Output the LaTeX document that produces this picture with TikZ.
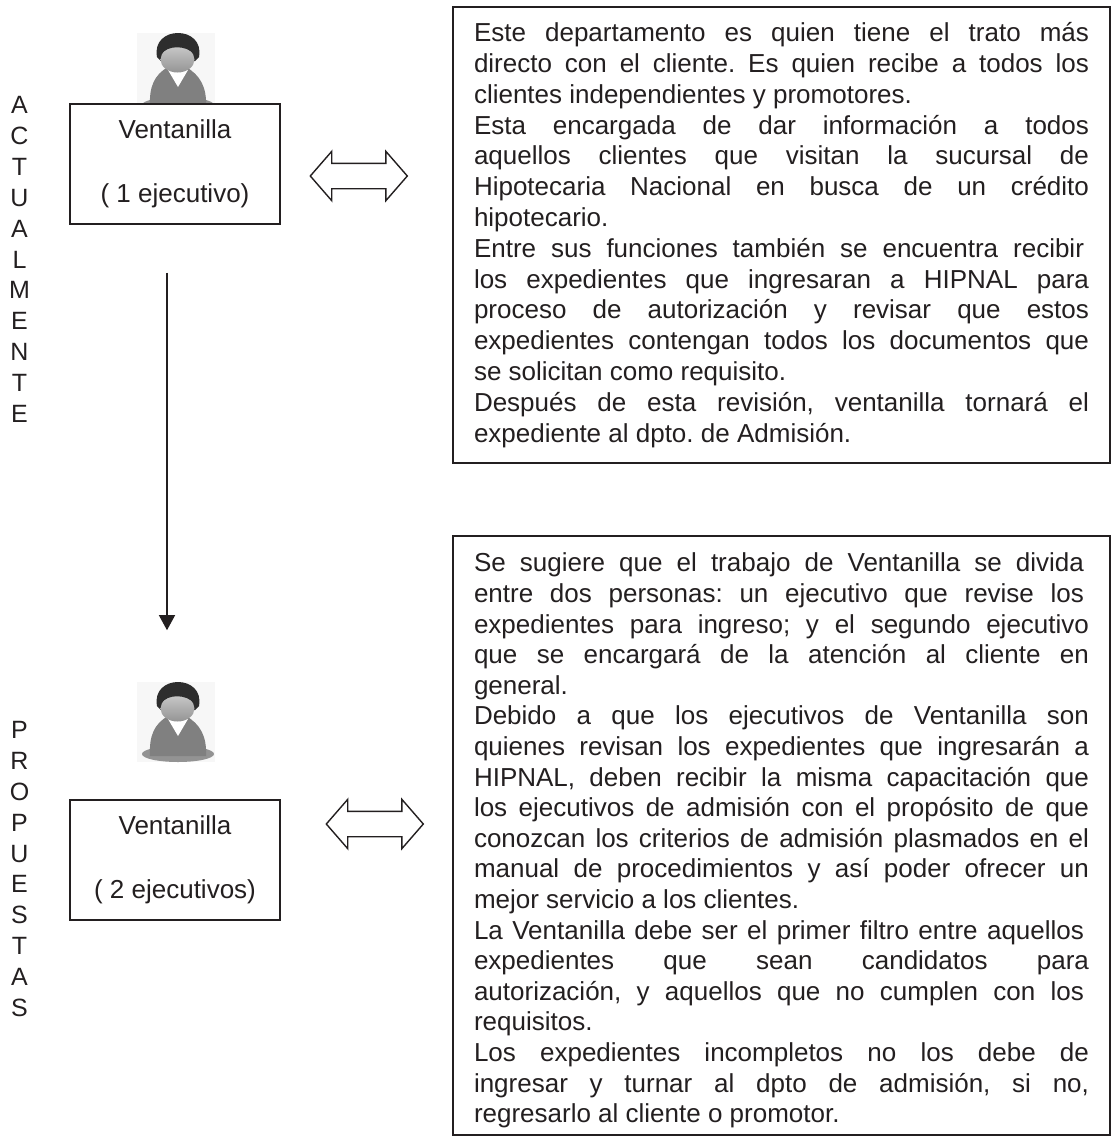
\documentclass[tikz,border=0pt]{standalone}
\usepackage{fontspec}
\setmainfont{Liberation Sans}
\frenchspacing
\usepackage{tikz}
\usetikzlibrary{calc,shapes,arrows.meta}
\definecolor{textcolor}{RGB}{35,31,32}
\definecolor{bodycolor}{RGB}{128,128,128}
\definecolor{haircolor}{RGB}{45,45,45}
\tikzstyle{block} = [draw=textcolor, fill=white, rectangle, line width=1.6pt, minimum height=120pt, minimum width=210pt, inner sep=0pt, text=textcolor, font=\fontsize{26}{64}\selectfont, align=center]
\tikzstyle{textblock} = [draw=textcolor, fill=white, rectangle, line width=1.6pt, minimum width=657pt, inner xsep=21pt, inner ysep=0pt, text width=615pt, text=textcolor]
\tikzstyle{dblarrow} = [draw=textcolor, double arrow, line width=1.4pt, fill=white, minimum height=97pt, text height=24pt, text depth=0pt, text width=0pt, inner sep=0pt, double arrow head extend=12pt, double arrow tip angle=98]
\tikzstyle{letters} = [text=textcolor, font=\fontsize{25}{30.85}\selectfont, align=center]
\tikzset{person/.pic={
  \fill[black!3] (-39,-40) rectangle (39,40);
  \fill[bodycolor!85] (2,32) ellipse (36 and 8);
  \fill[bodycolor] (-26,34) .. controls (-27,14) and (-22,2) .. (-8,-6) -- (10,-6) .. controls (24,2) and (31,14) .. (30,34) -- cycle;
  \fill[white] (-8,-3) -- (12,-3) -- (2,14) -- cycle;
  \fill[haircolor] (-19,-16) .. controls (-22,-32) and (-10,-40) .. (2,-40) .. controls (14,-40) and (26,-32) .. (23,-16) -- (19,-12) -- (-15,-12) -- cycle;
  \shade[top color=black!22, bottom color=black!42] (1.5,-13.5) ellipse (17 and 13);
  \fill[haircolor] (-15,-19) .. controls (-8,-28) and (10,-28) .. (18,-19) -- (16,-32) -- (-13,-32) -- cycle;
}}
\newcommand{\fullline}[1]{\hbox to 615pt{#1}}
\newcommand{\shortline}[1]{\hbox to 610pt{#1}}
\begin{document}
\begin{tikzpicture}[x=1pt,y=-1pt]
\useasboundingbox (0,0) rectangle (1111,1141);

%% Actualmente %%
\pic at (176,73) {person};
\node [block] (VentanillaOne) at (175,164) {Ventanilla\\( 1 ejecutivo)};
\node [letters] (LettersOne) at (19.5,259.5) {A\\C\\T\\U\\A\\L\\M\\E\\N\\T\\E};

\node [textblock, minimum height=456pt] (TextOne) at (781.5,235) {\vbox{\fontsize{26}{30.8}\selectfont\spaceskip=0pt\xspaceskip=0pt
\fullline{Este departamento es quien tiene el trato más}
\fullline{directo con el cliente. Es quien recibe a todos los}
\hbox{clientes independientes y promotores.}
\fullline{Esta encargada de dar información a todos}
\fullline{aquellos clientes que visitan la sucursal de}
\fullline{Hipotecaria Nacional en busca de un crédito}
\hbox{hipotecario.}
\shortline{Entre sus funciones también se encuentra recibir}
\fullline{los expedientes que ingresaran a HIPNAL para}
\fullline{proceso de autorización y revisar que estos}
\fullline{expedientes contengan todos los documentos que}
\hbox{se solicitan como requisito.}
\fullline{Después de esta revisión, ventanilla tornará el}
\hbox{expediente al dpto. de Admisión.}
}};

\node [dblarrow] (ArrowOne) at ($(VentanillaOne.east)+(78,12)$) {};

%% Propuestas %%
\pic at (176,722) {person};
\node [block] (VentanillaTwo) at (175,860) {Ventanilla\\( 2 ejecutivos)};
\node [letters] (LettersTwo) at (19.5,869) {P\\R\\O\\P\\U\\E\\S\\T\\A\\S};

\node [textblock, minimum height=599pt] (TextTwo) at (781.5,835.5) {\vbox{\fontsize{26}{30.6}\selectfont\spaceskip=0pt\xspaceskip=0pt
\vskip 10pt
\shortline{Se sugiere que el trabajo de Ventanilla se divida}
\shortline{entre dos personas: un ejecutivo que revise los}
\fullline{expedientes para ingreso; y el segundo ejecutivo}
\fullline{que se encargará de la atención al cliente en}
\hbox{general.}
\fullline{Debido a que los ejecutivos de Ventanilla son}
\fullline{quienes revisan los expedientes que ingresarán a}
\fullline{HIPNAL, deben recibir la misma capacitación que}
\fullline{los ejecutivos de admisión con el propósito de que}
\fullline{conozcan los criterios de admisión plasmados en el}
\fullline{manual de procedimientos y así poder ofrecer un}
\hbox{mejor servicio a los clientes.}
\shortline{La Ventanilla debe ser el primer filtro entre aquellos}
\fullline{expedientes que sean candidatos para}
\shortline{autorización, y aquellos que no cumplen con los}
\hbox{requisitos.}
\fullline{Los expedientes incompletos no los debe de}
\fullline{ingresar y turnar al dpto de admisión, si no,}
\hbox{regresarlo al cliente o promotor.}
}};

\node [dblarrow] (ArrowTwo) at ($(VentanillaTwo.east)+(94,-36)$) {};

%% Forbindelse %%
\coordinate (ArrowStart) at ($(VentanillaOne.south)+(-8,48)$);
\coordinate (ArrowEnd) at ($(VentanillaTwo.north)+(-8,-169)$);
\draw[-{Triangle[width=16pt,length=15pt]}, line width=1.4pt, draw=textcolor, fill=textcolor] (ArrowStart) -- (ArrowEnd);
\end{tikzpicture}
\end{document}
